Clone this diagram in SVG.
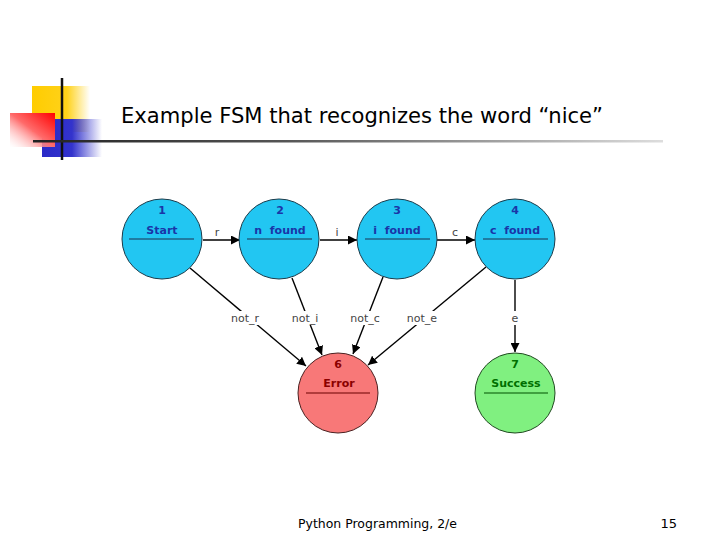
<svg xmlns="http://www.w3.org/2000/svg" width="720" height="540" viewBox="0 0 720 540">
<defs>
<linearGradient id="gy" x1="0" y1="0" x2="1" y2="0"><stop offset="0" stop-color="#ffcc00"/><stop offset="0.6" stop-color="#ffd21a"/><stop offset="1" stop-color="#ffd21a" stop-opacity="0"/></linearGradient>
<linearGradient id="gb" x1="0" y1="0" x2="1" y2="0"><stop offset="0" stop-color="#2a2ac8"/><stop offset="0.5" stop-color="#3333cc"/><stop offset="1" stop-color="#3333cc" stop-opacity="0"/></linearGradient>
<linearGradient id="gr" x1="0" y1="1" x2="1" y2="0"><stop offset="0" stop-color="#ffffff" stop-opacity="0.3"/><stop offset="0.5" stop-color="#ff6a6a"/><stop offset="1" stop-color="#ff0000"/></linearGradient>
<linearGradient id="gl" x1="0" y1="0" x2="1" y2="0"><stop offset="0" stop-color="#222"/><stop offset="0.4" stop-color="#555"/><stop offset="1" stop-color="#ddd"/></linearGradient>
<marker id="ah" viewBox="0 0 10 10" refX="10" refY="5" markerWidth="9" markerHeight="9" markerUnits="userSpaceOnUse" orient="auto"><path d="M0,0 L10,5 L0,10 z" fill="#000"/></marker>
</defs>
<style>
.st{fill:#22c6f2;stroke:#1b3b4a;stroke-width:1}
.err{fill:#f87878;stroke:#4a2020;stroke-width:1}
.suc{fill:#80f080;stroke:#204a20;stroke-width:1}
.nt{font-family:"DejaVu Sans",Verdana,sans-serif;font-size:11px;font-weight:bold;text-anchor:middle}
.bl{fill:#1a35a8}
.rd{fill:#8b0000}
.gn{fill:#007000}
.sep{stroke-width:1.2}
.edge{stroke:#000;stroke-width:1.4;fill:none;marker-end:url(#ah)}
.lbl{font-family:"DejaVu Sans",Verdana,sans-serif;font-size:11px;fill:#444;text-anchor:middle}
.lbg{fill:#fff}
</style>
<rect width="720" height="540" fill="#fff"/>
<g id="decor">
<rect x="32" y="86" width="58" height="46" fill="url(#gy)"/>
<rect x="42" y="119" width="60" height="38" fill="url(#gb)"/>
<rect x="10" y="113" width="45" height="34" fill="url(#gr)"/>
<line x1="62" y1="78" x2="62" y2="160" stroke="#111" stroke-width="2.5"/>
<rect x="33" y="140" width="630" height="2.5" fill="url(#gl)"/>
</g>
<text x="121" y="123" font-family="DejaVu Sans,Verdana,sans-serif" font-size="21" fill="#000" textLength="482" lengthAdjust="spacingAndGlyphs">Example FSM that recognizes the word “nice”</text>
<g id="connectors">
<line class="edge" x1="203" y1="240" x2="240" y2="240"/>
<line class="edge" x1="320" y1="240" x2="357" y2="240"/>
<line class="edge" x1="437" y1="240" x2="475" y2="240"/>
<line class="edge" x1="190" y1="268" x2="306" y2="366"/>
<line class="edge" x1="292" y1="278" x2="322" y2="355"/>
<line class="edge" x1="383" y1="277" x2="353" y2="354"/>
<line class="edge" x1="486" y1="267" x2="368" y2="365"/>
<line class="edge" x1="515" y1="280" x2="515" y2="352"/>
<rect class="lbg" x="210" y="225" width="14" height="14"/>
<text class="lbl" x="217" y="236">r</text>
<rect class="lbg" x="331" y="225" width="12" height="14"/>
<text class="lbl" x="337" y="236">i</text>
<rect class="lbg" x="449" y="225" width="12" height="14"/>
<text class="lbl" x="455" y="236">c</text>
<rect class="lbg" x="229" y="311" width="32" height="14"/>
<text class="lbl" x="245" y="322">not_r</text>
<rect class="lbg" x="290" y="311" width="30" height="14"/>
<text class="lbl" x="305" y="322">not_i</text>
<rect class="lbg" x="349" y="311" width="33" height="14"/>
<text class="lbl" x="365" y="322">not_c</text>
<rect class="lbg" x="406" y="311" width="33" height="14"/>
<text class="lbl" x="422" y="322">not_e</text>
<rect class="lbg" x="509" y="311" width="12" height="14"/>
<text class="lbl" x="515" y="322">e</text>
</g>
<g id="n1">
<circle class="st" cx="162" cy="239" r="40"/>
<text class="nt bl" x="162" y="214">1</text>
<text class="nt bl" x="162" y="234">Start</text>
<line class="sep" x1="129" y1="239" x2="194" y2="239" stroke="#1c3050"/>
</g>
<g id="n2">
<circle class="st" cx="279" cy="239" r="40"/>
<text class="nt bl" x="280" y="214">2</text>
<text class="nt bl" x="280" y="234" xml:space="preserve">n  found</text>
<line class="sep" x1="247" y1="239" x2="312" y2="239" stroke="#1c3050"/>
</g>
<g id="n3">
<circle class="st" cx="397" cy="239" r="40"/>
<text class="nt bl" x="397" y="214">3</text>
<text class="nt bl" x="397" y="234" xml:space="preserve">i  found</text>
<line class="sep" x1="365" y1="239" x2="430" y2="239" stroke="#1c3050"/>
</g>
<g id="n4">
<circle class="st" cx="515" cy="239" r="40"/>
<text class="nt bl" x="515" y="214">4</text>
<text class="nt bl" x="515" y="234" xml:space="preserve">c  found</text>
<line class="sep" x1="483" y1="239" x2="548" y2="239" stroke="#1c3050"/>
</g>
<g id="n6">
<circle class="err" cx="338" cy="393" r="40"/>
<text class="nt rd" x="338" y="368" font-weight="normal">6</text>
<text class="nt rd" x="339" y="387" font-weight="normal">Error</text>
<line class="sep" x1="306" y1="393" x2="370" y2="393" stroke="#6a0000"/>
</g>
<g id="n7">
<circle class="suc" cx="515" cy="393" r="40"/>
<text class="nt gn" x="515" y="368">7</text>
<text class="nt gn" x="516" y="387">Success</text>
<line class="sep" x1="484" y1="393" x2="548" y2="393" stroke="#005000"/>
</g>
<text x="298" y="528" font-family="DejaVu Sans,Verdana,sans-serif" font-size="13" fill="#000" textLength="159" lengthAdjust="spacingAndGlyphs">Python Programming, 2/e</text>
<text x="677" y="528" font-family="DejaVu Sans,Verdana,sans-serif" font-size="13" fill="#000" text-anchor="end">15</text>
</svg>
